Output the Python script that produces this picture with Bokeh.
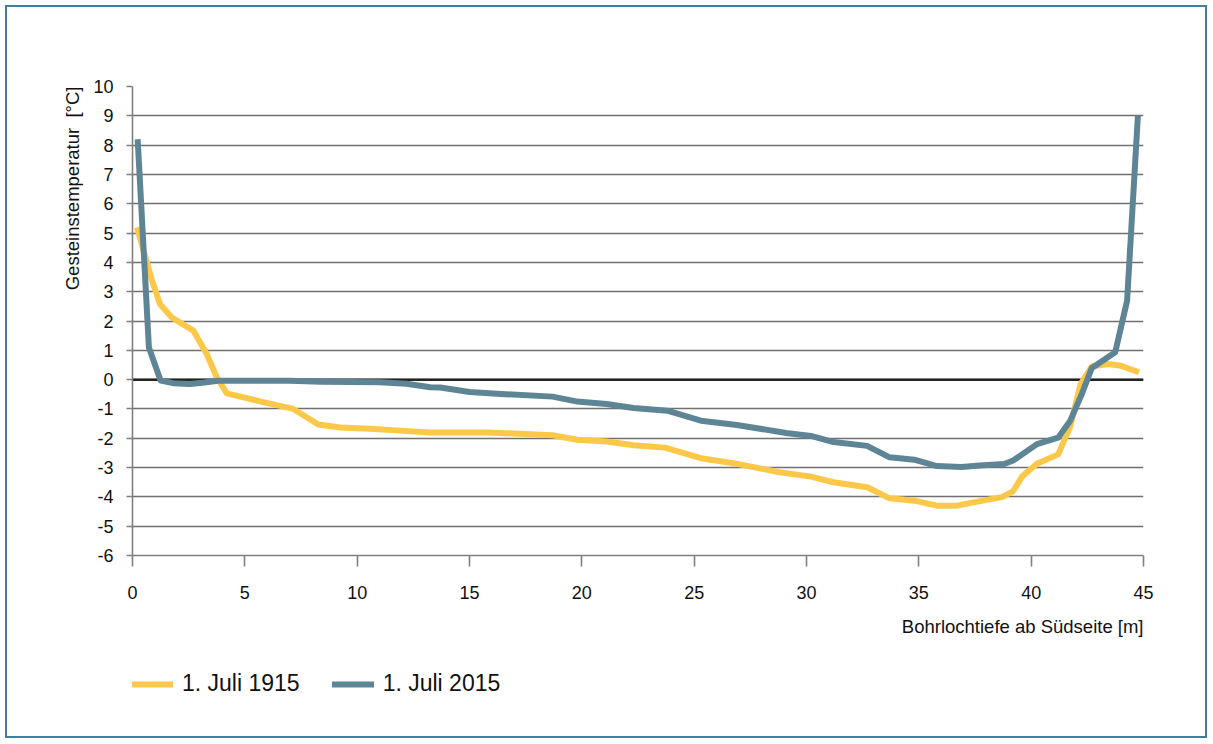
from bokeh.plotting import figure
from bokeh.layouts import column
from bokeh.models import Range1d, Span, Legend, LegendItem, FixedTicker, Title
from bokeh.embed import file_html
from bokeh.resources import INLINE

# ---- data ----
depth_1915 = [0.2, 0.85, 1.22, 1.75, 2.71, 3.3, 3.75, 4.2, 5.82, 7.16, 8.27, 9.24, 10.57, 11.9,
              13.25, 15.8, 17.25, 18.7, 19.8, 21.1, 22.3, 23.7, 25.3, 26.75, 28.8, 30.2, 31.2,
              32.7, 33.7, 34.8, 35.8, 36.7, 37.9, 38.7, 39.2, 39.6, 40.26, 41.2, 41.74, 42.2,
              42.7, 43.4, 44.0, 44.8]
temp_1915 = [5.2, 3.43, 2.58, 2.12, 1.67, 0.88, 0.08, -0.47, -0.77, -1.0, -1.53, -1.63, -1.68, -1.74,
             -1.8, -1.8, -1.85, -1.9, -2.05, -2.11, -2.24, -2.32, -2.68, -2.85, -3.16, -3.31, -3.5,
             -3.67, -4.05, -4.13, -4.3, -4.3, -4.12, -4.01, -3.8, -3.3, -2.87, -2.55, -1.6, -0.15,
             0.45, 0.53, 0.47, 0.25]

depth_2015 = [0.23, 0.73, 1.25, 1.8, 2.56, 3.2, 3.8, 5.0, 7.0, 8.4, 11.0, 12.2, 13.25, 13.7, 15.0,
              16.4, 18.7, 19.8, 21.1, 22.3, 23.8, 25.3, 26.9, 29.1, 30.2, 31.2, 32.7, 33.7, 34.8,
              35.8, 36.9, 37.7, 38.8, 39.2, 40.26, 41.2, 41.74, 42.26, 42.7, 43.15, 43.74, 44.27,
              44.75]
temp_2015 = [8.2, 1.1, -0.03, -0.12, -0.15, -0.1, -0.04, -0.04, -0.04, -0.07, -0.09, -0.14, -0.26,
             -0.27, -0.42, -0.49, -0.58, -0.75, -0.83, -0.97, -1.06, -1.4, -1.55, -1.82, -1.92,
             -2.13, -2.26, -2.65, -2.73, -2.95, -2.98, -2.93, -2.88, -2.76, -2.2, -1.98, -1.4,
             -0.48, 0.4, 0.63, 0.93, 2.69, 9.0]

x_ticks = [0, 5, 10, 15, 20, 25, 30, 35, 40, 45]
y_ticks = list(range(-6, 11))

series_names = ["1. Juli 1915", "1. Juli 2015"]
colors = ["#fcc84a", "#5e8595"]

x_title = "Bohrlochtiefe ab Südseite [m]"
y_title = "Gesteinstemperatur\u00a0 [°C]"

FONT = "Liberation Sans"
TXT = "#111111"
BORDER = "#40809a"

W, H1, H2 = 1212, 660, 83

p = figure(width=W, height=H1, output_backend="svg", toolbar_location=None,
           x_range=Range1d(0, 45), y_range=Range1d(-6, 10),
           min_border_left=132, min_border_right=W - 132 - 1011,
           min_border_top=86, min_border_bottom=H1 - 86 - 469)
p.outline_line_color = None
p.background_fill_color = "white"
p.border_fill_color = None

# grid
p.xgrid.grid_line_color = None
p.ygrid.ticker = FixedTicker(ticks=y_ticks)
p.ygrid.grid_line_color = "#707070"
p.ygrid.grid_line_width = 1.6

zero = Span(location=0, dimension="width", line_color="#222222", line_width=2.5, level="underlay")
p.add_layout(zero)

# axes
for ax in (p.xaxis[0], p.yaxis[0]):
    ax.axis_line_color = "#808080"
    ax.axis_line_width = 1.6
    ax.major_tick_line_color = "#808080"
    ax.major_tick_line_width = 1.6
    ax.minor_tick_line_color = None
    ax.major_tick_in = 0
    ax.major_label_text_font = FONT
    ax.major_label_text_font_size = "18px"
    ax.major_label_text_color = TXT

p.xaxis.ticker = FixedTicker(ticks=x_ticks)
p.xaxis.major_tick_out = 11
p.xaxis.major_label_standoff = 19
p.xaxis.major_label_overrides = {t: str(t) for t in x_ticks}
p.yaxis.ticker = FixedTicker(ticks=y_ticks)
p.yaxis.major_tick_out = 6
p.yaxis.major_label_standoff = 13
p.yaxis.major_label_overrides = {t: str(t) for t in y_ticks}

# lines
r1 = p.line(depth_1915, temp_1915, line_color=colors[0], line_width=6, line_join="round")
r2 = p.line(depth_2015, temp_2015, line_color=colors[1], line_width=6, line_join="round")

# titles in side panels
yt = Title(text=y_title, align="right", standoff=15, text_font=FONT, text_font_size="18.5px",
           text_font_style="normal", text_color=TXT)
p.add_layout(yt, "left")
xt = Title(text=x_title, align="right", standoff=24, text_font=FONT, text_font_size="18.5px",
           text_font_style="normal", text_color=TXT)
p.add_layout(xt, "below")

# legend strip under the chart: same series drawn into a view range that keeps them out of sight,
# so that the legend swatches get the series' styles
q = figure(width=W, height=H2, output_backend="svg", toolbar_location=None,
           x_range=Range1d(1000, 1001), y_range=Range1d(1000, 1001),
           x_axis_type=None, y_axis_type=None,
           min_border_left=0, min_border_right=0, min_border_top=0, min_border_bottom=0)
q.outline_line_color = None
q.background_fill_color = None
q.border_fill_color = None
q.grid.visible = False
s1 = q.line(depth_1915, temp_1915, line_color=colors[0], line_width=6, line_cap="round")
s2 = q.line(depth_2015, temp_2015, line_color=colors[1], line_width=6, line_cap="round")

legend = Legend(items=[LegendItem(label=series_names[0], renderers=[s1]),
                       LegendItem(label=series_names[1], renderers=[s2])],
                orientation="horizontal", location=(-1, 46),
                padding=0, margin=0, spacing=32, glyph_width=42, glyph_height=26,
                label_height=26, label_standoff=9,
                label_text_font=FONT, label_text_font_size="23px", label_text_color=TXT,
                border_line_color=None, background_fill_alpha=0)
q.add_layout(legend)

layout = column(p, q, spacing=0,
                styles={"box-shadow": f"inset 0 0 0 5px white, inset 0 0 0 7px {BORDER}"})

open("out.html", "w").write(file_html(layout, INLINE))
